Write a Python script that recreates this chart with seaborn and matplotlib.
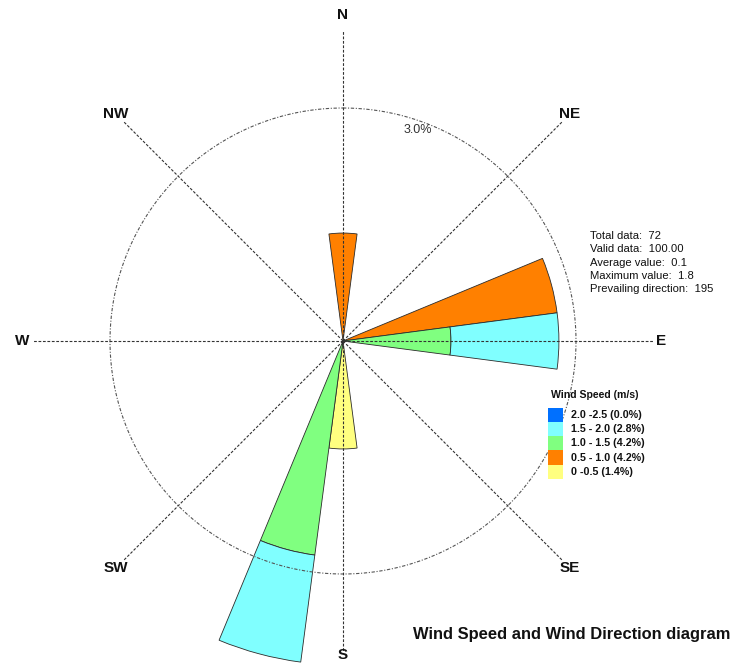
import numpy as np
import matplotlib
matplotlib.use("Agg")
import matplotlib.pyplot as plt
from matplotlib.patches import Rectangle
import seaborn as sns

# sector directions (deg, compass) that carry any data
directions = [0, 75, 90, 180, 195]

# frequency (%) of each speed class per direction
pct_00_05 = [0.00, 0.00, 0.00, 1.39, 0.00]
pct_05_10 = [1.39, 2.78, 0.00, 0.00, 0.00]
pct_10_15 = [0.00, 0.00, 1.39, 0.00, 2.78]
pct_15_20 = [0.00, 0.00, 1.39, 0.00, 1.39]
pct_20_25 = [0.00, 0.00, 0.00, 0.00, 0.00]

speed_labels = ["0 -0.5 (1.4%)", "0.5 - 1.0 (4.2%)", "1.0 - 1.5 (4.2%)",
                "1.5 - 2.0 (2.8%)", "2.0 -2.5 (0.0%)"]
speed_colors = ["#FFFF80", "#FF8000", "#80FF80", "#80FFFF", "#0070FF"]

compass_names = ["N", "NE", "E", "SE", "S", "SW", "W", "NW"]
compass_angles = [0, 45, 90, 135, 180, 225, 270, 315]

stats_lines = ["Total data:  72", "Valid data:  100.00", "Average value:  0.1",
               "Maximum value:  1.8", "Prevailing direction:  195"]

ring_value = 3.0
sector_width = 15

sns.set_theme(style="white")
plt.rcParams['font.family'] = ['Liberation Sans', 'DejaVu Sans']

W, H = 736, 666
fig = plt.figure(figsize=(W / 100, H / 100), dpi=100)

# polar axes placed so that the centre sits at (343, 341) px
cx, cy = 343, 341
rmax = 4.3
px_per_pct = 233 / 3.0
rad_px = rmax * px_per_pct
ax = fig.add_axes([(cx - rad_px) / W, (H - cy - rad_px) / H, 2 * rad_px / W, 2 * rad_px / H],
                  projection="polar")
ax.set_theta_zero_location("N")
ax.set_theta_direction(-1)
ax.set_ylim(0, rmax)
ax.grid(False)
ax.set_xticks([])
ax.set_yticks([])
ax.spines["polar"].set_visible(False)
ax.patch.set_alpha(0)

theta = np.deg2rad(directions)
width = np.deg2rad(sector_width)
bottom = np.zeros(len(directions))
for vals, col in zip([pct_00_05, pct_05_10, pct_10_15, pct_15_20, pct_20_25], speed_colors):
    vals = np.array(vals)
    mask = vals > 0
    if mask.any():
        ax.bar(theta[mask], vals[mask], width=width, bottom=bottom[mask], color=col,
               edgecolor="#2b2b2b", linewidth=0.6, align="center", zorder=2)
    bottom += vals

# reference ring and direction spokes
t = np.linspace(0, 2 * np.pi, 400)
ax.plot(t, np.full_like(t, ring_value), color="#555555", lw=0.8,
        linestyle=(0, (3, 1.5, 1, 1.5)), zorder=3)
for ang in compass_angles:
    a = np.deg2rad(ang)
    ax.plot([a, a], [0, 4.0], color="#333333", lw=0.8, linestyle=(0, (2.5, 1.5)), zorder=3)
label_r = {"N": 4.2, "S": 4.04, "E": 4.1}
for name, ang in zip(compass_names, compass_angles):
    ax.text(np.deg2rad(ang), label_r.get(name, 4.13), name, ha="center", va="center",
            fontsize=11, fontweight="bold", color="#111111")

ax.text(np.deg2rad(19.5), 2.88, f"{ring_value:.1f}%", ha="center", va="center",
        fontsize=9, color="#333333")

# statistics block
for i, line in enumerate(stats_lines):
    fig.text(590 / W, 1 - (236 + i * 13.3) / H, line, ha="left", va="center",
             fontsize=8.1, color="#111111")

# legend block
fig.text(551 / W, 1 - 395 / H, "Wind Speed (m/s)", ha="left", va="center",
         fontsize=7.6, fontweight="bold", color="#111111")
for i, (lab, col) in enumerate(zip(speed_labels[::-1], speed_colors[::-1])):
    yc = 415 + i * 14.2
    fig.add_artist(Rectangle((548 / W, 1 - (yc + 7) / H), 15 / W, 14.2 / H,
                             transform=fig.transFigure, facecolor=col, edgecolor="none"))
    fig.text(571 / W, 1 - yc / H, lab, ha="left", va="center", fontsize=7.7,
             fontweight="bold", color="#111111")

fig.text(413 / W, 1 - 635 / H, "Wind Speed and Wind Direction diagram", ha="left",
         va="center", fontsize=11.9, fontweight="bold", color="#111111")

fig.savefig("out.png", dpi=100, facecolor="white")
